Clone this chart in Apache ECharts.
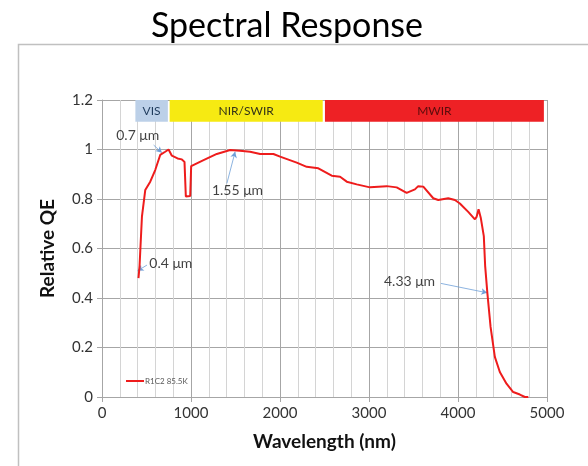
<!DOCTYPE html>
<html lang="en">
<head>
    <meta charset="UTF-8">
    <title>Spectral Response</title>
    <script src="https://cdn.jsdelivr.net/npm/echarts@6/dist/echarts.min.js"></script>
    <style>
        body { margin: 0; background: #fff; }
    </style>
</head>
<body>

<div id="main" style="width: 588px;height:466px;"></div>
<script type="text/javascript">
    var chart = echarts.init(document.getElementById('main'));

    // wavelength (nm) and relative QE
    var wavelength = [410, 422, 449, 486, 542, 598, 654, 710, 748, 785, 849, 897, 927, 942, 991, 1002,
        1141, 1290, 1440, 1550, 1664, 1777, 1926, 2001, 2188, 2300, 2431, 2581, 2675, 2750, 2862,
        3011, 3199, 3311, 3423, 3516, 3553, 3610, 3722, 3778, 3890, 3965, 4021, 4115, 4190, 4209,
        4231, 4257, 4290, 4305, 4330, 4366, 4414, 4470, 4545, 4620, 4695, 4751, 4790];
    var qe = [0.48, 0.53, 0.73, 0.836, 0.87, 0.917, 0.978, 0.991, 1.0, 0.975, 0.964, 0.96, 0.95, 0.81, 0.812, 0.933,
        0.957, 0.982, 0.998, 0.995, 0.991, 0.982, 0.982, 0.971, 0.947, 0.930, 0.924, 0.894, 0.890, 0.870, 0.859,
        0.847, 0.852, 0.847, 0.825, 0.839, 0.852, 0.85, 0.803, 0.796, 0.803, 0.796, 0.782, 0.748, 0.718, 0.728,
        0.759, 0.722, 0.65, 0.53, 0.42, 0.283, 0.162, 0.101, 0.054, 0.020, 0.010, 0.0, 0.0];

    // spectral bands along the top
    var bandNames = ['VIS', 'NIR/SWIR', 'MWIR'];
    var bandStart = [375, 760, 2505];
    var bandEnd = [740, 2480, 4965];
    var bandColors = ['#bcd0e8', '#f6ea12', '#ee2125'];
    var bandText = ['#1f3b5c', '#333318', '#5a0c0c'];
    var bandLow = 1.112, bandHigh = 1.2;

    // callouts: text, text x/y, arrow from x/y, arrow to x/y
    var noteText = ['0.7 μm', '1.55 μm', '0.4 μm', '4.33 μm'];
    var notePos = [[160, 1.055], [1235, 0.836], [531, 0.540], [3168, 0.465]];
    var noteFrom = [[580, 1.018], [1403, 0.863], [505, 0.533], [3808, 0.459]];
    var noteTo = [[673, 0.987], [1496, 0.991], [400, 0.510], [4328, 0.421]];

    var seriesName = 'R1C2 85.5K';
    var font = 'Lato, "Liberation Sans", sans-serif';

    var option = {
        animation: false,
        textStyle: { fontFamily: font },
        title: {
            text: 'Spectral Response',
            left: 282,
            top: 4,
            textAlign: 'center',
            textStyle: { fontSize: 34, fontWeight: 'normal', color: '#000', fontFamily: font }
        },
        graphic: [{
            type: 'rect',
            shape: { x: 18.5, y: 44.5, width: 620, height: 460 },
            style: { fill: 'none', stroke: '#c0c0c0', lineWidth: 1.5 },
            z: -1
        }],
        legend: {
            data: [seriesName],
            left: 121,
            top: 372,
            icon: 'rect',
            itemWidth: 18,
            itemHeight: 2,
            itemGap: 2,
            textStyle: { fontSize: 8, color: '#595959', padding: [0, 0, 0, -4] }
        },
        grid: { left: 102, right: 41, top: 100, bottom: 69 },
        xAxis: {
            type: 'value',
            min: 0,
            max: 5000,
            interval: 1000,
            name: 'Wavelength (nm)',
            nameLocation: 'middle',
            nameGap: 35,
            nameTextStyle: { fontSize: 19, fontWeight: 'bold', color: '#111' },
            axisLine: { lineStyle: { color: '#a6a6a6' } },
            axisTick: { show: true, length: 5, lineStyle: { color: '#a6a6a6' } },
            axisLabel: { fontSize: 15, color: '#333', margin: 9, formatter: function (v) { return String(v); } },
            splitLine: { lineStyle: { color: '#a6a6a6' } },
            minorTick: { show: false, splitNumber: 5 },
            minorSplitLine: { show: true, lineStyle: { color: '#d4d4d4' } }
        },
        yAxis: {
            type: 'value',
            min: 0,
            max: 1.2,
            interval: 0.2,
            name: 'Relative QE',
            nameLocation: 'middle',
            nameGap: 45,
            nameTextStyle: { fontSize: 19, fontWeight: 'bold', color: '#111' },
            axisLine: { show: true, lineStyle: { color: '#a6a6a6' } },
            axisTick: { show: true, length: 5, lineStyle: { color: '#a6a6a6' } },
            axisLabel: { fontSize: 15, color: '#333', margin: 9 },
            splitLine: { lineStyle: { color: '#a6a6a6' } }
        },
        series: [{
            name: seriesName,
            type: 'line',
            showSymbol: false,
            color: '#ee1c1c',
            lineStyle: { width: 2, color: '#ee1c1c' },
            data: wavelength.map(function (w, i) { return [w, qe[i]]; }),
            z: 5,
            markArea: {
                silent: true,
                data: bandNames.map(function (n, i) {
                    return [{
                        name: n,
                        xAxis: bandStart[i],
                        yAxis: bandLow,
                        itemStyle: { color: bandColors[i], opacity: 1 },
                        label: { color: bandText[i] }
                    }, {
                        xAxis: bandEnd[i],
                        yAxis: bandHigh
                    }];
                }),
                label: { show: true, position: 'inside', fontSize: 12, fontFamily: font }
            },
            markLine: {
                silent: true,
                symbol: ['none', 'arrow'],
                symbolSize: [5, 6],
                lineStyle: { color: '#6f9fd8', width: 0.8, type: 'solid' },
                label: { show: false },
                data: noteFrom.map(function (f, i) {
                    return [{ coord: f }, { coord: noteTo[i] }];
                })
            }
        }, {
            name: 'notes',
            type: 'scatter',
            symbolSize: 0,
            silent: true,
            data: notePos.map(function (p, i) { return { value: p, name: noteText[i] }; }),
            label: {
                show: true,
                position: 'right',
                distance: 0,
                formatter: '{b}',
                fontSize: 14,
                color: '#111',
                fontFamily: font
            },
            z: 6
        }]
    };

    chart.setOption(option);
</script>
</body>
</html>
